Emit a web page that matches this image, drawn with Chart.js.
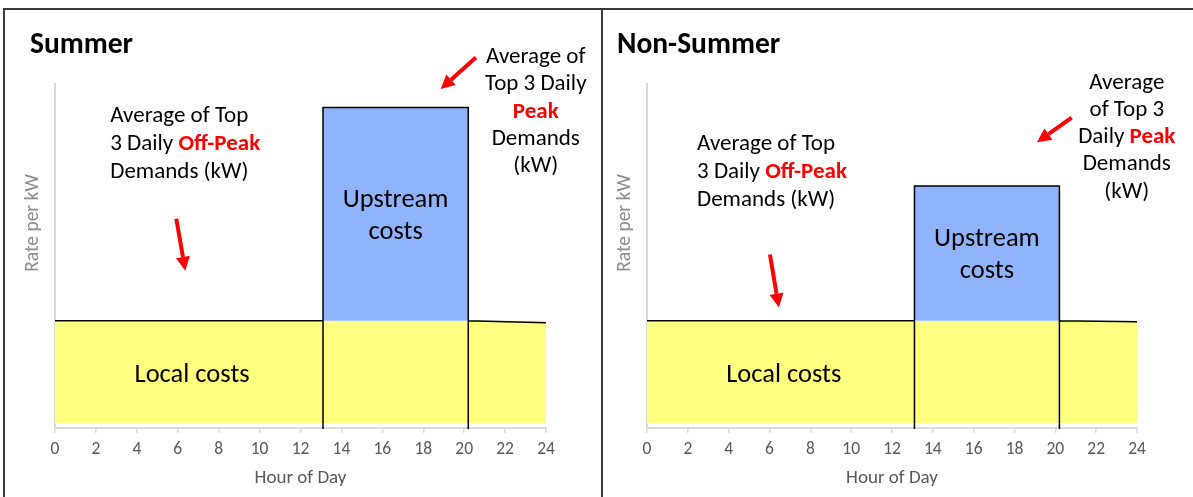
<!DOCTYPE html>
<html>
<head>
<meta charset="utf-8">
<script src="https://cdn.jsdelivr.net/npm/chart.js@4.4.1/dist/chart.umd.min.js"></script>
<style>
  html, body { margin: 0; padding: 0; background: #fff; }
  #wrap { position: relative; width: 1193px; height: 497px; overflow: hidden; }
  canvas { position: absolute; top: 0; }
  #summer { left: 0; }
  #nonsummer { left: 592px; }
  .rule { position: absolute; background: #3a3a3a; }
</style>
</head>
<body>
<div id="wrap">
  <canvas id="summer" width="600" height="497"></canvas>
  <canvas id="nonsummer" width="601" height="497"></canvas>
  <div class="rule" style="left:3px; top:8px; width:1190px; height:2px;"></div>
  <div class="rule" style="left:3px; top:8px; width:2px; height:489px;"></div>
  <div class="rule" style="left:601px; top:8px; width:2px; height:489px;"></div>
</div>
<script>
// panel titles
const panelTitles = ['Summer', 'Non-Summer'];

// rate per kW (relative units)
const localRate = [1.0, 1.0];
const localRateEnd = [0.98, 0.99];   // line dips a little after the peak
const upstreamRate = [3.09, 2.32];   // top of the blue block
const peakStart = [13.1, 13.1];
const peakEnd = [20.2, 20.2];

// annotation texts (*...* = red bold)
const offPeakNote = [
  ['Average of Top', '3 Daily *Off-Peak*', 'Demands (kW)'],
  ['Average of Top', '3 Daily *Off-Peak*', 'Demands (kW)']
];
const peakNote = [
  ['Average of', 'Top 3 Daily', '*Peak*', 'Demands', '(kW)'],
  ['Average', 'of Top 3', 'Daily *Peak*', 'Demands', '(kW)']
];

// where the notes and arrows sit, in axis units
const notePlace = [
  { title: 25, off: [2.7, 3.0], offArrow: [5.93, 2.0, 6.37, 1.49], peak: [23.5, 3.58], peakArrow: [20.57, 3.58, 18.85, 3.27] },
  { title: 30, off: [2.45, 2.73], offArrow: [6.02, 1.65, 6.46, 1.13], peak: [23.5, 3.33], peakArrow: [20.8, 2.99, 19.1, 2.75] }
];

const FONT = "Carlito, Lato, 'Open Sans', sans-serif";
Chart.defaults.font.family = FONT;

function drawRuns(ctx, line, x, y, align, size) {
  const parts = line.split('*');
  const fontN = size + 'px ' + FONT;
  const fontB = 'bold ' + size + 'px ' + FONT;
  let w = 0;
  parts.forEach(function(p, i) {
    ctx.font = i % 2 ? fontB : fontN;
    w += ctx.measureText(p).width;
  });
  let cx = align === 'center' ? x - w / 2 : x;
  ctx.textAlign = 'left';
  ctx.textBaseline = 'middle';
  parts.forEach(function(p, i) {
    ctx.font = i % 2 ? fontB : fontN;
    ctx.fillStyle = i % 2 ? '#ff0000' : '#000000';
    ctx.fillText(p, cx, y);
    cx += ctx.measureText(p).width;
  });
}

function drawArrow(ctx, x1, y1, x2, y2) {
  const a = Math.atan2(y2 - y1, x2 - x1);
  const head = 14, half = 7;
  const bx = x2 - head * Math.cos(a), by = y2 - head * Math.sin(a);
  ctx.strokeStyle = '#ff0000';
  ctx.fillStyle = '#ff0000';
  ctx.lineWidth = 4;
  ctx.beginPath();
  ctx.moveTo(x1, y1);
  ctx.lineTo(bx, by);
  ctx.stroke();
  ctx.beginPath();
  ctx.moveTo(x2, y2);
  ctx.lineTo(bx + half * Math.sin(a), by - half * Math.cos(a));
  ctx.lineTo(bx - half * Math.sin(a), by + half * Math.cos(a));
  ctx.closePath();
  ctx.fill();
}

const notesPlugin = {
  id: 'notes',
  afterDatasetsDraw(chart, args, opts) {
    const i = opts.panel;
    const ctx = chart.ctx;
    const xs = chart.scales.x, ys = chart.scales.y;
    const place = notePlace[i];
    const area = chart.chartArea;
    ctx.save();

    // panel title
    ctx.font = 'bold 29.5px ' + FONT;
    ctx.fillStyle = '#000';
    ctx.textAlign = 'left';
    ctx.textBaseline = 'middle';
    ctx.fillText(panelTitles[i], area.left - place.title, 46);

    // y axis title, set a bit above the axis middle like the original
    ctx.save();
    ctx.translate(area.left - 22, 223);
    ctx.rotate(-Math.PI / 2);
    ctx.font = '19.5px ' + FONT;
    ctx.fillStyle = '#8c8c8c';
    ctx.textAlign = 'center';
    ctx.fillText('Rate per kW', 0, 0);
    ctx.restore();

    // block labels
    ctx.font = '26.5px ' + FONT;
    ctx.fillStyle = '#000';
    ctx.textAlign = 'center';
    const ux = xs.getPixelForValue((peakStart[i] + peakEnd[i]) / 2);
    const uy = ys.getPixelForValue((localRate[i] + upstreamRate[i]) / 2);
    ctx.fillText('Upstream', ux, uy - 14);
    ctx.fillText('costs', ux, uy + 18);
    ctx.fillText('Local costs', xs.getPixelForValue(6.7), ys.getPixelForValue(localRate[i] * 0.47));

    // notes
    let nx = xs.getPixelForValue(place.off[0]), ny = ys.getPixelForValue(place.off[1]);
    offPeakNote[i].forEach(function(l, k) { drawRuns(ctx, l, nx, ny + k * 28, 'left', 23); });
    nx = xs.getPixelForValue(place.peak[0]); ny = ys.getPixelForValue(place.peak[1]);
    peakNote[i].forEach(function(l, k) { drawRuns(ctx, l, nx, ny + k * 27.2, 'center', 23); });

    // arrows
    [place.offArrow, place.peakArrow].forEach(function(a) {
      drawArrow(ctx, xs.getPixelForValue(a[0]), ys.getPixelForValue(a[1]),
                xs.getPixelForValue(a[2]), ys.getPixelForValue(a[3]));
    });
    ctx.restore();
  }
};

function createRateChart(id, i, padRight) {
  const ps = peakStart[i], pe = peakEnd[i];
  const lo = localRate[i], up = upstreamRate[i];
  new Chart(document.getElementById(id), {
    type: 'scatter',
    data: {
      datasets: [
        {
          // black outline, on top of the fills
          data: [
            { x: 0, y: lo }, { x: ps, y: lo }, { x: ps, y: -0.06 }, { x: ps, y: up },
            { x: pe, y: up }, { x: pe, y: -0.06 }, { x: pe, y: lo }, { x: 24, y: localRateEnd[i] }
          ],
          showLine: true,
          fill: false,
          borderColor: '#000',
          borderWidth: 1.5,
          pointRadius: 0,
          clip: false,
          order: 0
        },
        {
          // upstream block, filled down to the local rate
          data: [{ x: ps, y: up }, { x: pe, y: up }],
          showLine: true,
          fill: { value: lo },
          backgroundColor: '#8fb4fb',
          borderWidth: 0,
          pointRadius: 0,
          order: 1
        },
        {
          // local costs, filled to zero
          data: [{ x: 0, y: lo }, { x: 24, y: lo }],
          showLine: true,
          fill: 'origin',
          backgroundColor: '#ffff80',
          borderWidth: 0,
          pointRadius: 0,
          order: 2
        }
      ]
    },
    options: {
      responsive: false,
      animation: false,
      layout: { padding: { left: 18, top: 84, right: padRight, bottom: 0 } },
      plugins: {
        legend: { display: false },
        tooltip: { enabled: false },
        notes: { panel: i }
      },
      scales: {
        x: {
          type: 'linear',
          min: 0,
          max: 24,
          afterFit: function(s) { s.height = 69; },
          ticks: { stepSize: 2, color: '#595959', font: { size: 17.5 }, padding: 6 },
          grid: { drawOnChartArea: false, drawTicks: true, tickLength: 5, color: '#d9d9d9', lineWidth: 1.5 },
          border: { color: '#d9d9d9', width: 2 },
          title: { display: true, text: 'Hour of Day', color: '#595959', font: { size: 19 }, padding: { top: 2, bottom: 7 } }
        },
        y: {
          min: -0.05,
          max: 3.32,
          afterFit: function(s) { s.width = 37; },
          ticks: { display: false },
          grid: { display: false },
          border: { color: '#d9d9d9', width: 2 },
          title: { display: false }
        }
      }
    },
    plugins: [notesPlugin]
  });
}

createRateChart('summer', 0, 54);
createRateChart('nonsummer', 1, 56);
</script>
</body>
</html>
